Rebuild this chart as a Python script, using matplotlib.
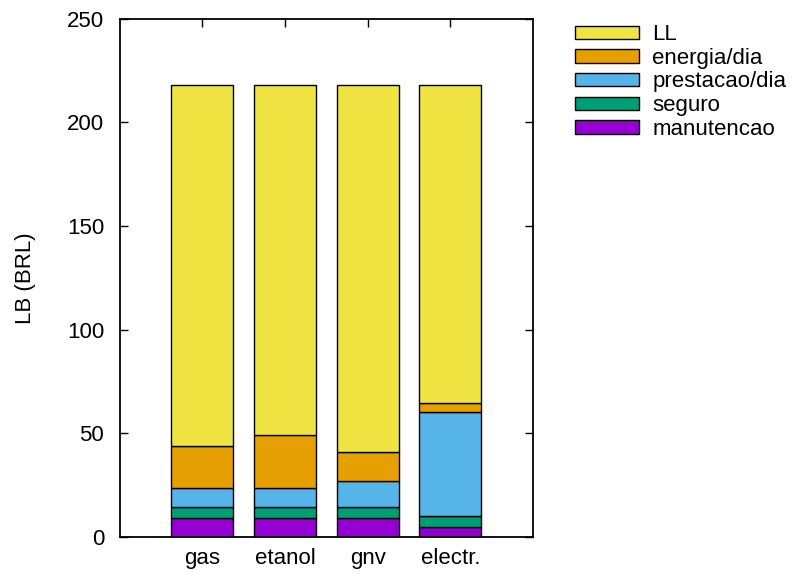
import matplotlib
matplotlib.use("Agg")
import matplotlib.pyplot as plt
import numpy as np

plt.rcParams['font.family'] = ['Liberation Sans', 'DejaVu Sans']

# data (heights of each stacked segment)
categories = ['gas', 'etanol', 'gnv', 'electr.']
manutencao = [8.9, 8.9, 8.9, 4.5]
seguro = [5.4, 5.4, 5.4, 5.5]
prestacao = [9.1, 9.1, 12.7, 50.1]
energia = [20.2, 25.7, 13.7, 4.3]
ll = [174.4, 168.9, 177.3, 153.6]

series = [
    ('manutencao', manutencao, '#9400d3'),
    ('seguro', seguro, '#009e73'),
    ('prestacao/dia', prestacao, '#56b4e9'),
    ('energia/dia', energia, '#e69f00'),
    ('LL', ll, '#f0e442'),
]

fs = 16

fig = plt.figure(figsize=(7.97, 5.74), dpi=100)
ax = fig.add_axes([0.150, 0.065, 0.519, 0.902])

x = np.arange(1, len(categories) + 1)
bottom = np.zeros(len(categories))
handles = []
for name, vals, color in series:
    h = ax.bar(x, vals, width=0.75, bottom=bottom, color=color,
               edgecolor='black', linewidth=1.0, label=name)
    bottom += np.array(vals)
    handles.append(h)

ax.set_xlim(0, 5)
ax.set_ylim(0, 250)
ax.set_xticks(x)
ax.set_xticklabels(categories)
ax.set_yticks(np.arange(0, 251, 50))
ax.tick_params(direction='in', top=True, right=True, length=6, width=1,
               labelsize=fs)
ax.tick_params(axis='y', pad=11)
ax.tick_params(axis='x', bottom=False, pad=8)
for s in ax.spines.values():
    s.set_linewidth(1.3)
ax.set_ylabel('LB (BRL)', fontsize=fs, labelpad=22)

ax.legend(handles[::-1], [s[0] for s in series][::-1], loc='upper left',
          bbox_to_anchor=(1.10, 0.99), frameon=False, fontsize=fs,
          handlelength=2.9, handleheight=0.54, labelspacing=0.12,
          handletextpad=0.6, borderaxespad=0.0, borderpad=0.0)

fig.savefig('out.png', dpi=100)
